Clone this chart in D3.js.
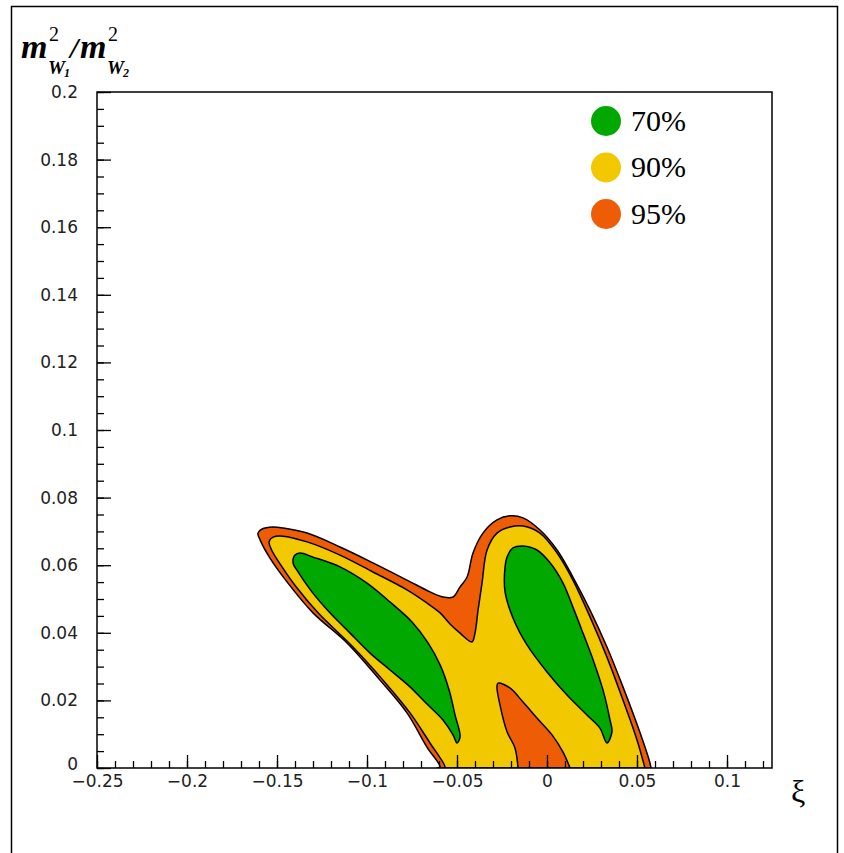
<!DOCTYPE html>
<html>
<head>
<meta charset="utf-8">
<script src="https://cdn.jsdelivr.net/npm/d3@7"></script>
<style>
  body { margin: 0; background: #fff; }
  svg { display: block; }
</style>
</head>
<body>
<script>
// contour levels (xi, m_W1^2/m_W2^2)

var xMajor = [-0.25, -0.2, -0.15, -0.1, -0.05, 0, 0.05, 0.1];
var yMajor = [0, 0.02, 0.04, 0.06, 0.08, 0.1, 0.12, 0.14, 0.16, 0.18, 0.2];
var legendLabels = ["70%", "90%", "95%"];

// outer 95% region
var outer95 = [
  [-0.0611, 0], [-0.0594, 0.0003], [-0.0667, 0.0062], [-0.0778, 0.0163], [-0.0928, 0.0260],
  [-0.1111, 0.0370], [-0.1300, 0.0459], [-0.1439, 0.0547], [-0.1539, 0.0621], [-0.1594, 0.0675],
  [-0.1606, 0.0695], [-0.1583, 0.0707], [-0.1522, 0.0713], [-0.1467, 0.0710], [-0.1333, 0.0695],
  [-0.1150, 0.0654], [-0.0967, 0.0607], [-0.0778, 0.0556], [-0.0650, 0.0521], [-0.0578, 0.0506],
  [-0.0522, 0.0506], [-0.0483, 0.0536], [-0.0444, 0.0565], [-0.0411, 0.0636], [-0.0356, 0.0695],
  [-0.0278, 0.0734], [-0.0206, 0.0746], [-0.0133, 0.0740], [-0.0039, 0.0704], [0.0056, 0.0645],
  [0.0144, 0.0565], [0.0239, 0.0467], [0.0333, 0.0358], [0.0422, 0.0240], [0.0517, 0.0104],
  [0.0572, 0.0015], [0.0578, 0]
];

// 90% region
var region90 = [
  [-0.0578, 0], [-0.0567, 0.0003], [-0.0650, 0.0074], [-0.0761, 0.0163], [-0.0911, 0.0260],
  [-0.1078, 0.0358], [-0.1272, 0.0459], [-0.1394, 0.0536], [-0.1472, 0.0595], [-0.1530, 0.0645],
  [-0.1544, 0.0669], [-0.1522, 0.0683], [-0.1467, 0.0686], [-0.1333, 0.0669], [-0.1150, 0.0630],
  [-0.0967, 0.0580], [-0.0778, 0.0527], [-0.0667, 0.0488], [-0.0594, 0.0459], [-0.0539, 0.0426],
  [-0.0483, 0.0399], [-0.0417, 0.0373], [-0.0400, 0.0399], [-0.0383, 0.0467], [-0.0361, 0.0547],
  [-0.0333, 0.0645], [-0.0278, 0.0695], [-0.0206, 0.0713], [-0.0133, 0.0716], [-0.0039, 0.0695],
  [0.0056, 0.0636], [0.0144, 0.0556], [0.0239, 0.0447], [0.0333, 0.0328], [0.0422, 0.0201],
  [0.0500, 0.0083], [0.0544, 0]
];

// 95% pocket inside the 90% region
var hole95 = [
  [-0.0161, 0], [-0.0178, 0.0059], [-0.0222, 0.0107], [-0.0261, 0.0186], [-0.0278, 0.0240],
  [-0.0272, 0.0251], [-0.0206, 0.0237], [-0.0133, 0.0195], [-0.0056, 0.0148], [0.0028, 0.0098],
  [0.0089, 0.0047], [0.0128, 0]
];

// 70% lobes
var lobeLeft = [
  [-0.1400, 0.0630], [-0.1372, 0.0636], [-0.1300, 0.0624], [-0.1150, 0.0595], [-0.1000, 0.0547],
  [-0.0872, 0.0491], [-0.0750, 0.0432], [-0.0661, 0.0370], [-0.0594, 0.0305], [-0.0544, 0.0231],
  [-0.0511, 0.0157], [-0.0483, 0.0092], [-0.0500, 0.0074], [-0.0522, 0.0098], [-0.0578, 0.0142],
  [-0.0678, 0.0195], [-0.0761, 0.0240], [-0.0872, 0.0290], [-0.0983, 0.0340], [-0.1094, 0.0399],
  [-0.1206, 0.0459], [-0.1306, 0.0521], [-0.1383, 0.0580], [-0.1411, 0.0607]
];
var lobeRight = [
  [-0.0222, 0.0624], [-0.0189, 0.0651], [-0.0133, 0.0657], [-0.0056, 0.0645], [0.0017, 0.0607],
  [0.0089, 0.0547], [0.0144, 0.0476], [0.0200, 0.0399], [0.0256, 0.0320], [0.0311, 0.0231],
  [0.0350, 0.0142], [0.0361, 0.0107], [0.0333, 0.0074], [0.0294, 0.0118], [0.0222, 0.0157],
  [0.0111, 0.0216], [0.0000, 0.0284], [-0.0111, 0.0364], [-0.0189, 0.0444], [-0.0233, 0.0521],
  [-0.0233, 0.0595]
];

var green = "#00a800", yellow = "#f2c800", orange = "#ee5c05";

var width = 844, height = 853;
var padL = 97, padR = 772, padT = 92, padB = 768;

var svg = d3.select("body").append("svg")
  .attr("width", width)
  .attr("height", height);

// canvas frame
svg.append("rect")
  .attr("x", 11.5).attr("y", 6.5)
  .attr("width", 826).attr("height", 870)
  .attr("fill", "none").attr("stroke", "#000").attr("stroke-width", 1.5);

var x = d3.scaleLinear().domain([-0.25, 0.125]).range([padL, padR]);
var y = d3.scaleLinear().domain([0, 0.2]).range([padB, padT]);

svg.append("clipPath").attr("id", "plot")
  .append("rect").attr("x", padL).attr("y", padT)
  .attr("width", padR - padL).attr("height", padB - padT);

var g = svg.append("g").attr("clip-path", "url(#plot)");

var openLine = d3.line()
  .x(function(d){ return x(d[0]); })
  .y(function(d){ return y(d[1]); })
  .curve(d3.curveCatmullRom);
var closedLine = d3.line()
  .x(function(d){ return x(d[0]); })
  .y(function(d){ return y(d[1]); })
  .curve(d3.curveCatmullRomClosed);

function band(data, fill) {
  g.append("path")
    .attr("d", openLine(data) + "Z")
    .attr("fill", fill)
    .attr("stroke", "#000")
    .attr("stroke-width", 1.5)
    .attr("stroke-linejoin", "round");
}
function lobe(data, fill) {
  g.append("path")
    .attr("d", closedLine(data))
    .attr("fill", fill)
    .attr("stroke", "#000")
    .attr("stroke-width", 1.5);
}

band(outer95, orange);
band(region90, yellow);
band(hole95, orange);
lobe(lobeLeft, green);
lobe(lobeRight, green);

// axes
var fmt = function(d) {
  if (Math.abs(d) < 1e-9) return "0";
  return String(+d.toFixed(3)).replace("-", "\u2212");
};

var xMinor = d3.range(-25, 13).map(function(i){ return i / 100; });
var yMinor = d3.range(0, 41).map(function(i){ return i * 0.005; });

svg.append("g")
  .attr("transform", "translate(0," + padB + ")")
  .call(d3.axisBottom(x).tickValues(xMinor).tickSize(-7).tickSizeOuter(0).tickFormat(""))
  .call(function(a){ a.select(".domain").remove(); });
svg.append("g")
  .attr("transform", "translate(" + padL + ",0)")
  .call(d3.axisLeft(y).tickValues(yMinor).tickSize(-7).tickSizeOuter(0).tickFormat(""))
  .call(function(a){ a.select(".domain").remove(); });

var xAxis = svg.append("g")
  .attr("transform", "translate(0," + padB + ")")
  .call(d3.axisBottom(x).tickValues(xMajor).tickSize(-13).tickSizeOuter(0).tickPadding(7).tickFormat(fmt));
xAxis.select(".domain").remove();

var yAxis = svg.append("g")
  .attr("transform", "translate(" + padL + ",0)")
  .call(d3.axisLeft(y).tickValues(yMajor).tickSize(-14).tickSizeOuter(0).tickPadding(19).tickFormat(fmt));
yAxis.select(".domain").remove();

svg.selectAll(".tick line").attr("stroke", "#000").attr("stroke-width", 1.3);
svg.selectAll(".tick text")
  .attr("font-family", "DejaVu Sans, sans-serif")
  .attr("font-size", 17)
  .attr("fill", "#222");

// the "0" on the y axis sits a bit high so it clears "-0.25"
yAxis.selectAll(".tick text").filter(function(d){ return d === 0; })
  .attr("dy", "0.1em");

// plot frame
svg.append("rect")
  .attr("x", padL).attr("y", padT)
  .attr("width", padR - padL).attr("height", padB - padT)
  .attr("fill", "none").attr("stroke", "#000").attr("stroke-width", 1.5);

// legend
var legend = svg.append("g");
legendLabels.forEach(function(lab, i) {
  var cy = 121 + i * 46.5;
  legend.append("circle")
    .attr("cx", 606).attr("cy", cy).attr("r", 15)
    .attr("fill", [green, yellow, orange][i]);
  legend.append("text")
    .attr("x", 631).attr("y", cy + 9.5)
    .attr("font-family", "Liberation Serif, serif")
    .attr("font-size", 30)
    .text(lab);
});

// y title  m^2_{W1}/m^2_{W2}
var ser = "Liberation Serif, serif";
function t(tx, ty, size, str, weight, style) {
  svg.append("text")
    .attr("x", tx).attr("y", ty)
    .attr("font-family", ser)
    .attr("font-size", size)
    .attr("font-weight", weight || "normal")
    .attr("font-style", style || "normal")
    .text(str);
}
t(21, 58, 34, "m", "bold", "italic");
t(49, 41, 20, "2");
t(48, 74, 19, "W", "bold", "italic");
t(64, 77, 12, "1", "bold", "italic");
t(70, 58, 30, "/", "bold", "italic");
t(80, 58, 34, "m", "bold", "italic");
t(108, 41, 20, "2");
t(107, 74, 19, "W", "bold", "italic");
t(123, 77, 12, "2", "bold", "italic");

// x title
t(791, 802, 32, "\u03be");
</script>
</body>
</html>
